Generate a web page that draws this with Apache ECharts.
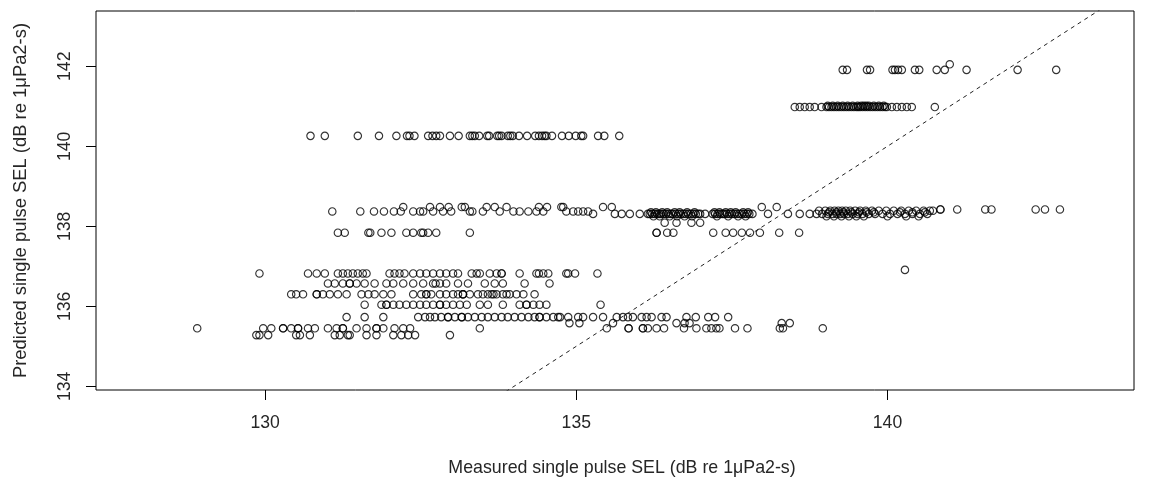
<!DOCTYPE html>
<html>
<head>
<meta charset="utf-8">
<script src="https://cdn.jsdelivr.net/npm/echarts@6/dist/echarts.min.js"></script>
<style>
    html, body { margin: 0; background: #fff; }
    #main { width: 1152px; height: 482px; }
</style>
</head>
<body>
<div id="main"></div>
<script>
    // measured SEL values, grouped by the predicted SEL they were plotted against
    var row1420 = [141.00];
    var row1419 = [139.28, 139.35, 139.67, 139.72, 140.08, 140.12, 140.17, 140.23, 140.44, 140.51, 140.79, 140.92, 141.27, 142.09, 142.71];
    var row1410 = [138.51, 138.59, 138.67, 138.75, 138.83, 138.94, 139.02, 139.06, 139.10, 139.14, 139.18, 139.22, 139.26, 139.30, 139.34, 139.38, 139.42, 139.46, 139.50, 139.53, 139.56, 139.60, 139.64, 139.68, 139.72, 139.76, 139.80, 139.84, 139.88, 139.92, 139.96, 139.99, 140.07, 140.15, 140.23, 140.31, 140.39, 140.76];
    var row1411 = [139.04, 139.12, 139.20, 139.28, 139.36, 139.44, 139.52, 139.58, 139.62, 139.66, 139.70, 139.78, 139.86, 139.94];
    var row1403 = [130.73, 130.96, 131.49, 131.83, 132.11, 132.28, 132.32, 132.40, 132.62, 132.69, 132.75, 132.81, 132.97, 133.11, 133.29, 133.33, 133.37, 133.44, 133.57, 133.60, 133.73, 133.76, 133.80, 133.90, 133.94, 133.98, 134.08, 134.21, 134.34, 134.40, 134.45, 134.49, 134.52, 134.61, 134.77, 134.88, 134.99, 135.08, 135.11, 135.35, 135.45, 135.69];
    var row1385 = [132.22, 132.65, 132.81, 132.95, 133.16, 133.21, 133.56, 133.69, 133.88, 134.40, 134.53, 134.76, 134.79, 135.43, 135.57, 137.98, 138.22];
    var row1384 = [140.85, 140.85, 141.12, 141.57, 141.67, 142.38, 142.53, 142.77];
    var row1387 = [131.08, 131.53, 131.75, 131.91, 132.07, 132.18, 132.38, 132.49, 132.54, 132.70, 132.86, 132.99, 133.29, 133.33, 133.50, 133.77, 133.99, 134.09, 134.23, 134.36, 134.47, 134.84, 134.95, 135.03, 135.11, 135.19];
    var row1389 = [138.90, 139.00, 139.08, 139.15, 139.21, 139.27, 139.33, 139.40, 139.48, 139.56, 139.65, 139.75, 139.86, 139.98, 140.10, 140.22, 140.34, 140.46, 140.58, 140.68, 140.73];
    var row1386 = [136.20, 136.28, 136.38, 136.46, 136.58, 136.66, 136.78, 136.90, 137.22, 137.30, 137.40, 137.48, 137.56, 137.68, 137.76, 139.06, 139.18, 139.29, 139.42, 139.54, 139.66, 139.78, 140.20, 140.40, 140.60];
    var row1383 = [135.27, 135.62, 135.73, 135.86, 136.02, 136.15, 136.18, 136.22, 136.26, 136.30, 136.33, 136.36, 136.40, 136.44, 136.48, 136.52, 136.55, 136.60, 136.64, 136.68, 136.72, 136.76, 136.80, 136.84, 136.88, 136.92, 136.96, 136.99, 137.07, 137.19, 137.23, 137.27, 137.31, 137.35, 137.38, 137.42, 137.46, 137.50, 137.54, 137.58, 137.62, 137.66, 137.70, 137.74, 137.78, 137.83, 138.08, 138.40, 138.59, 138.75, 138.86, 138.95, 139.04, 139.12, 139.18, 139.24, 139.30, 139.36, 139.44, 139.52, 139.60, 139.70, 139.80, 139.92, 140.04, 140.16, 140.28, 140.40, 140.52, 140.64];
    var row1382 = [136.24, 136.34, 136.50, 136.62, 136.74, 136.86, 137.26, 137.44, 137.60, 137.72, 139.02, 139.14, 139.26, 139.38, 139.50, 139.62, 140.00, 140.30, 140.50];
    var row1381 = [136.42, 136.61, 136.85, 136.99];
    var row1378 = [131.17, 131.28, 131.66, 131.69, 131.87, 132.03, 132.27, 132.38, 132.51, 132.54, 132.62, 132.75, 133.29, 136.29, 136.29, 136.46, 136.56, 137.20, 137.40, 137.52, 137.66, 137.79, 137.95, 138.26, 138.58];
    var row1369 = [140.28];
    var row1368 = [129.91, 130.69, 130.83, 130.96, 131.17, 131.25, 131.33, 131.41, 131.49, 131.57, 131.63, 132.00, 132.08, 132.16, 132.24, 132.38, 132.49, 132.59, 132.70, 132.81, 132.91, 133.02, 133.10, 133.32, 133.40, 133.45, 133.61, 133.72, 133.80, 133.80, 134.09, 134.36, 134.40, 134.47, 134.55, 134.84, 134.87, 134.98, 135.34];
    var row1366 = [131.01, 131.12, 131.25, 131.36, 131.36, 131.47, 131.60, 131.76, 131.95, 132.06, 132.22, 132.38, 132.54, 132.70, 132.74, 132.81, 132.91, 133.10, 133.26, 133.53, 133.69, 133.82, 134.17, 134.57];
    var row1363 = [130.42, 130.50, 130.61, 130.83, 130.83, 130.93, 131.04, 131.17, 131.31, 131.55, 131.66, 131.76, 131.90, 132.03, 132.38, 132.51, 132.59, 132.59, 132.67, 132.81, 132.91, 133.02, 133.10, 133.18, 133.18, 133.18, 133.29, 133.42, 133.50, 133.58, 133.64, 133.67, 133.72, 133.82, 133.88, 133.93, 134.04, 134.15, 134.33];
    var row1360 = [131.60, 131.87, 131.95, 131.95, 132.06, 132.16, 132.27, 132.38, 132.49, 132.59, 132.70, 132.81, 132.81, 132.91, 133.02, 133.13, 133.24, 133.45, 133.58, 133.82, 134.09, 134.20, 134.20, 134.31, 134.41, 134.52, 135.39];
    var row1357 = [131.31, 131.60, 131.90, 132.46, 132.57, 132.65, 132.73, 132.83, 132.94, 132.94, 133.05, 133.16, 133.16, 133.26, 133.37, 133.48, 133.58, 133.69, 133.80, 133.90, 134.01, 134.12, 134.23, 134.33, 134.41, 134.41, 134.52, 134.63, 134.71, 134.74, 134.87, 135.03, 135.11, 135.27, 135.43, 135.65, 135.75, 135.83, 135.91, 136.05, 136.13, 136.21, 136.37, 136.45, 136.77, 136.92, 137.12, 137.23, 137.44];
    var row1356 = [134.89, 135.05, 135.59, 136.61, 136.74, 136.82, 138.30, 138.43];
    var row1354 = [128.91, 129.97, 130.10, 130.29, 130.29, 130.42, 130.53, 130.53, 130.69, 130.80, 131.01, 131.15, 131.25, 131.25, 131.47, 131.63, 131.79, 131.79, 131.90, 132.08, 132.22, 132.33, 133.45, 135.49, 135.84, 135.84, 136.07, 136.07, 136.15, 136.29, 136.41, 136.73, 136.93, 137.09, 137.17, 137.25, 137.30, 137.55, 137.75, 138.27, 138.32, 138.96];
    var row1353 = [129.86, 129.91, 130.05, 130.50, 130.56, 130.72, 131.12, 131.20, 131.33, 131.36, 131.63, 131.79, 132.06, 132.19, 132.30, 132.41, 132.97];

    // predicted SEL for each row
    var rows = [
        [142.05, row1420], [141.91, row1419], [140.98, row1410], [141.01, row1411],
        [140.26, row1403], [138.48, row1385], [138.42, row1384], [138.37, row1387],
        [138.39, row1389], [138.35, row1386], [138.31, row1383], [138.25, row1382],
        [138.09, row1381], [137.84, row1378], [136.91, row1369], [136.82, row1368],
        [136.57, row1366], [136.30, row1363], [136.04, row1360], [135.73, row1357],
        [135.58, row1356], [135.45, row1354], [135.28, row1353]
    ];

    var xTicks = [130, 135, 140];
    var yTicks = [134, 136, 138, 140, 142];
    var refLine = [125, 146]; // 1:1 line

    var points = [];
    rows.forEach(function (r) {
        r[1].forEach(function (m) { points.push([m, r[0]]); });
    });

    var myChart = echarts.init(document.getElementById('main'));
    var font = 'Liberation Sans, Arial, sans-serif';
    var txt = '#262626';

    var option = {
        animation: false,
        backgroundColor: '#fff',
        grid: {
            left: 96, right: 18, top: 11, bottom: 90,
            show: true, borderColor: '#000', borderWidth: 1
        },
        xAxis: {
            type: 'value',
            min: 127.284, max: 143.96,
            name: 'Measured single pulse SEL (dB re 1\u03bcPa2-s)',
            nameLocation: 'middle', nameGap: 69,
            nameTextStyle: { fontFamily: font, fontSize: 17.8, color: txt, padding: [0, 0, 0, 14] },
            axisLine: { show: false },
            splitLine: { show: false },
            axisTick: { show: true, length: 10, customValues: xTicks, lineStyle: { color: '#000' } },
            axisLabel: { customValues: xTicks, margin: 24, fontFamily: font, fontSize: 17.6, color: txt }
        },
        yAxis: {
            type: 'value',
            min: 133.908, max: 143.381,
            name: 'Predicted single pulse SEL (dB re 1\u03bcPa2-s)',
            nameLocation: 'middle', nameGap: 66,
            nameTextStyle: { fontFamily: font, fontSize: 18.4, color: txt },
            axisLine: { show: false },
            splitLine: { show: false },
            axisTick: { show: true, length: 10, customValues: yTicks, lineStyle: { color: '#000' } },
            axisLabel: { customValues: yTicks, rotate: 90, margin: 22, fontFamily: font, fontSize: 17.6, color: txt }
        },
        series: [
            {
                type: 'scatter',
                data: points,
                symbol: 'circle',
                symbolSize: 7.4,
                itemStyle: { color: 'rgba(0,0,0,0)', borderColor: '#000', borderWidth: 1.15 }
            },
            {
                type: 'line',
                data: refLine.map(function (v) { return [v, v]; }),
                symbol: 'none',
                clip: true,
                lineStyle: { type: [4, 4], width: 1, color: '#222' }
            }
        ]
    };

    option && myChart.setOption(option);
</script>
</body>
</html>
